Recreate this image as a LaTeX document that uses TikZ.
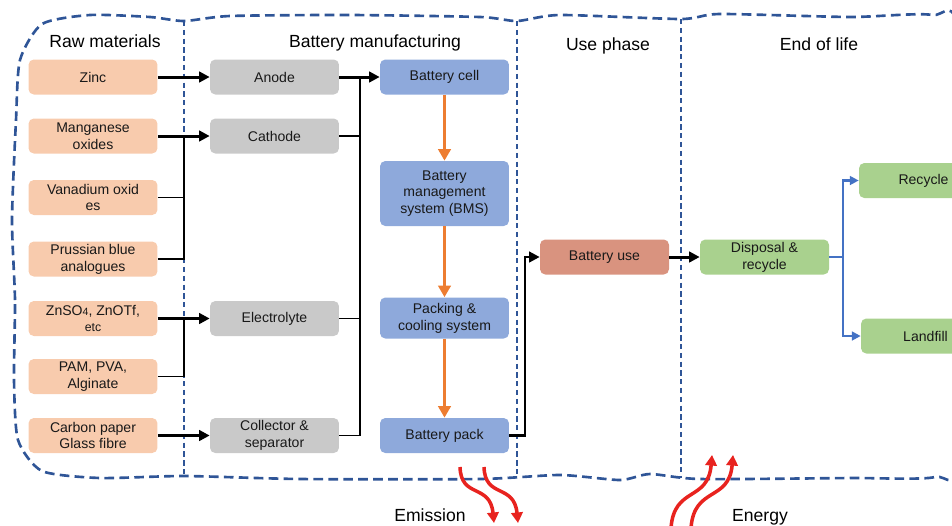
\documentclass[tikz,border=0pt]{standalone}
\usepackage{fontspec}
\setmainfont{Liberation Sans}
\usetikzlibrary{arrows.meta, positioning}
\definecolor{rawfill}{HTML}{F8CBAD}
\definecolor{partfill}{HTML}{C9C9C9}
\definecolor{packfill}{HTML}{8EA9DB}
\definecolor{usefill}{HTML}{D9937F}
\definecolor{eolfill}{HTML}{A9D18E}
\definecolor{framecol}{HTML}{2F5597}
\definecolor{flowor}{HTML}{ED7D31}
\definecolor{flowbl}{HTML}{4472C4}
\definecolor{flowred}{HTML}{E8231F}

\begin{document}
\begin{tikzpicture}[
  x=0.02cm, y=-0.02cm,
  font=\fontsize{8}{9.6}\selectfont,
  >={Triangle[length=6pt,width=6pt]},
  box/.style={fill=#1, rounded corners=3pt, align=center, text=black!90,
              minimum width=2.58cm, minimum height=0.7cm, inner sep=1pt},
  head/.style={font=\fontsize{10}{12}\selectfont, anchor=base},
  feed/.style={->, line width=1.7pt},
  merge/.style={line width=1.1pt},
  orflow/.style={->, draw=flowor, line width=1.7pt,
                 >={Triangle[length=6.5pt,width=7pt]}},
  blflow/.style={->, draw=flowbl, line width=1.2pt,
                 >={Triangle[length=5pt,width=5pt]}},
  heat/.style={->, draw=flowred, line width=2pt,
               >={Triangle[length=6pt,width=6.5pt]}},
  sep/.style={draw=framecol, line width=1.1pt, dash pattern=on 3pt off 2pt},
]
  \useasboundingbox (0,0) rectangle (952,525);

  % --- outer frame and stage separators ----------------------------
  \draw[draw=framecol, line width=1.5pt, dash pattern=on 5.5pt off 3pt]
    plot[smooth cycle, tension=0.4] coordinates {
      (14,380) (15,300) (12,220) (16,120) (20,60) (42,24) (90,15) (150,17)
      (184,21) (230,16) (350,15) (480,17) (517,21) (560,15) (681,19)
      (720,14) (850,17) (932,15) (958,40) (960,450) (935,477) (850,478)
      (700,479) (650,474) (620,480) (560,475) (480,479) (300,479)
      (184,476) (100,478) (42,471) (18,440)};
  \draw[sep] (184,21) -- (184,476);
  \draw[sep] (517,21) -- (517,476);
  \draw[sep] (681,19) -- (681,478);

  % --- headings ------------------------------------------------------
  \node[head] (hraw) at (105,47) {Raw materials};
  \node[head] (hman) at (375,47) {Battery manufacturing};
  \node[head] (huse) at (608,50) {Use phase};
  \node[head] (heol) at (819,50) {End of life};

  % --- raw materials -------------------------------------------------
  \node[box=rawfill] (zinc) at (93,77) {Zinc};
  \node[box=rawfill] (mang) at (93,136) {Manganese\\oxides};
  \node[box=rawfill] (vana) at (93,197.5) {Vanadium oxid\\es};
  \node[box=rawfill] (prus) at (93,259) {Prussian blue\\analogues};
  \node[box=rawfill] (salt) at (93,318.5) {ZnSO{\fontsize{6}{7}\selectfont 4}, ZnOTf,\\{\fontsize{7}{8}\selectfont etc}};
  \node[box=rawfill] (poly) at (93,376.5) {PAM, PVA,\\Alginate};
  \node[box=rawfill] (carb) at (93,435.5) {Carbon paper\\Glass fibre};

  % --- components ----------------------------------------------------
  \node[box=partfill] (anode) at (274.5,77) {Anode};
  \node[box=partfill] (cathode) at (274.5,136) {Cathode};
  \node[box=partfill] (elyte) at (274.5,318.5) {Electrolyte};
  \node[box=partfill] (coll) at (274.5,435.5) {Collector \&\\separator};

  % --- assembly ------------------------------------------------------
  \node[box=packfill] (cell) at (444.5,77) {Battery cell};
  \node[box=packfill, minimum height=1.3cm] (bms) at (444.5,193.5) {Battery\\management\\system (BMS)};
  \node[box=packfill, minimum height=0.82cm] (cool) at (444.5,318) {Packing \&\\cooling system};
  \node[box=packfill] (pack) at (444.5,435.5) {Battery pack};

  % --- use and end of life ------------------------------------------
  \node[box=usefill] (use) at (604.5,257) {Battery use};
  \node[box=eolfill] (disp) at (764.5,257) {Disposal \&\\recycle};
  \node[box=eolfill] (recy) at (923.5,180.5) {Recycle};
  \node[box=eolfill] (land) at (925.5,336) {Landfill};

  % --- junction points ----------------------------------------------
  \coordinate (jmang) at (184,136);
  \coordinate (jsalt) at (184,318.5);
  \coordinate (jcell) at (360,77);
  \coordinate (juse) at (525,257);
  \coordinate (jdisp) at (843,257);

  % --- material flows -----------------------------------------------
  \draw[feed] (zinc) -- (anode);
  \draw[feed] (mang) -- (cathode);
  \draw[merge] (vana.east) -| (jmang);
  \draw[merge] (prus.east) -| (jmang);
  \draw[feed] (salt) -- (elyte);
  \draw[merge] (poly.east) -| (jsalt);
  \draw[feed] (carb) -- (coll);

  \draw[feed] (anode) -- (cell);
  \draw[merge] (cathode.east) -| (jcell);
  \draw[merge] (elyte.east) -| (jcell);
  \draw[merge] (coll.east) -| (jcell);

  \draw[orflow] (cell) -- (bms);
  \draw[orflow] (bms) -- (cool);
  \draw[orflow] (cool) -- (pack);

  \draw[feed, line width=1.4pt] (pack.east) -| (juse) -- (use.west);
  \draw[feed] (use) -- (disp);

  \draw[draw=flowbl, line width=1.2pt] (disp.east) -- (jdisp);
  \draw[blflow] (jdisp) |- (recy.west);
  \draw[blflow] (jdisp) |- (land.west);

  % --- emission and energy ------------------------------------------
  \coordinate (em1) at (460,467);
  \coordinate (em2) at (484,467);
  \coordinate (em1t) at (494,523);
  \coordinate (em2t) at (518,523);
  \draw[heat] (em1) .. controls (461,499) and (490,483) .. (em1t);
  \draw[heat] (em2) .. controls (485,499) and (514,483) .. (em2t);
  \coordinate (en1) at (671,528);
  \coordinate (en2) at (691,528);
  \coordinate (en1t) at (712,455);
  \coordinate (en2t) at (733,455);
  \draw[heat] (en1) .. controls (674,486) and (708,502) .. (en1t);
  \draw[heat] (en2) .. controls (694,486) and (729,502) .. (en2t);

  \node[head] (emis) at (430,521) {Emission};
  \node[head] (ener) at (760,521) {Energy};
\end{tikzpicture}
\end{document}
